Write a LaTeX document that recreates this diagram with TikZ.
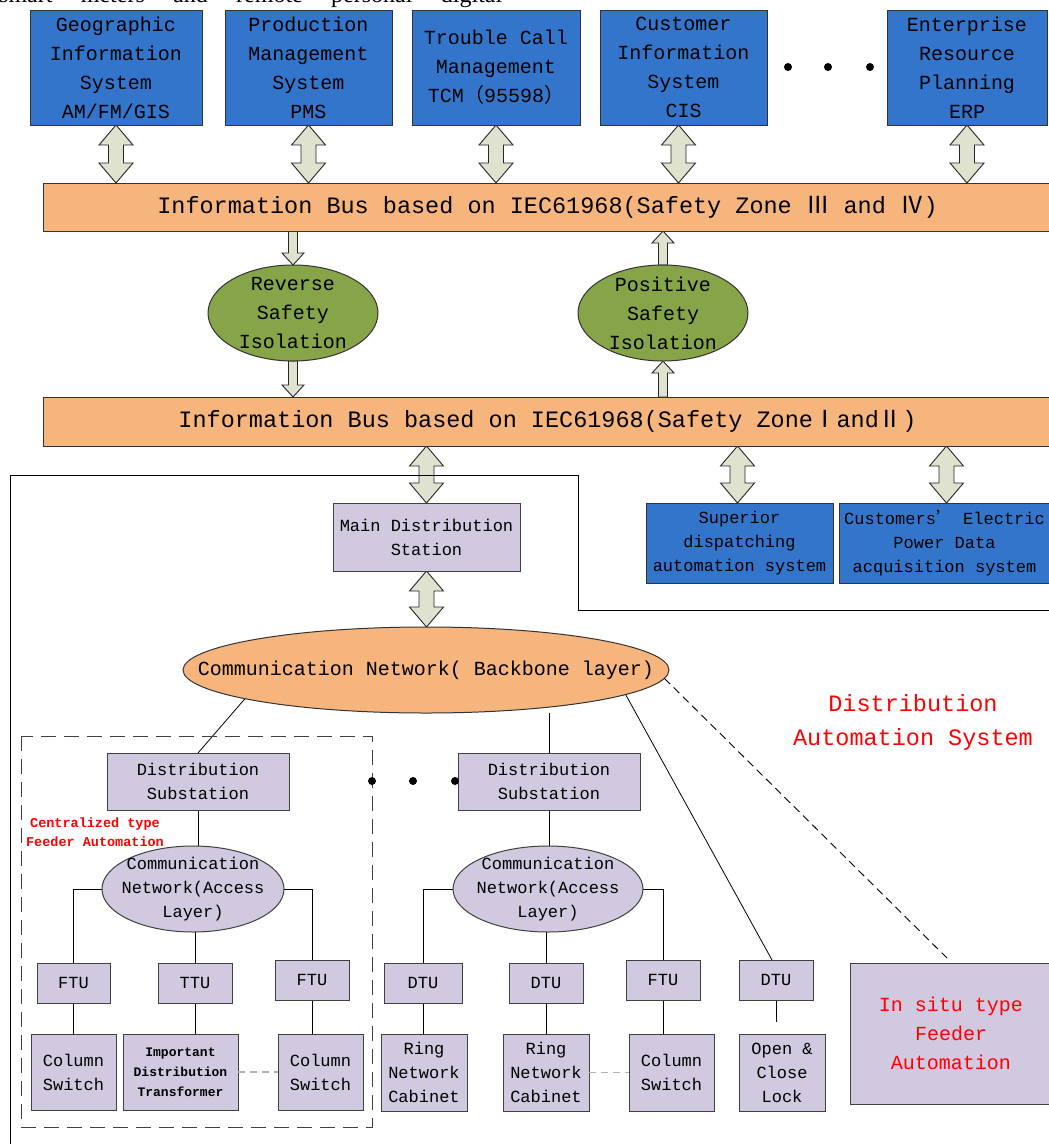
\documentclass[tikz,border=0pt]{standalone}
\usepackage{fontspec}
\setmainfont{Liberation Mono}
\newfontfamily\cjk{Noto Sans CJK SC}
\newfontfamily\serifx{Liberation Serif}
\usetikzlibrary{shapes.geometric,calc,backgrounds}
\definecolor{sysblue}{RGB}{52,117,204}
\definecolor{busorange}{RGB}{247,181,126}
\definecolor{isogreen}{RGB}{134,164,72}
\definecolor{lav}{RGB}{209,201,224}
\definecolor{arrfill}{RGB}{222,226,206}
\definecolor{redtxt}{RGB}{255,0,0}
\tikzset{
  sz/.style 2 args={minimum width=#1pt, minimum height=#2pt},
  basebox/.style={draw=black!80, line width=1pt, align=center, inner sep=0pt, outer sep=0pt},
  sysbox/.style={basebox, fill=sysblue, font=\fontsize{20}{29}\selectfont},
  subbox/.style={basebox, fill=sysblue, font=\fontsize{17}{24}\selectfont},
  busbox/.style={basebox, fill=busorange, font=\fontsize{23.5}{28}\selectfont},
  isoell/.style={basebox, ellipse, fill=isogreen},
  bbell/.style={basebox, ellipse, fill=busorange},
  accell/.style={basebox, ellipse, fill=lav, draw=black!75},
  bigtxt/.style={align=center, inner sep=0pt, font=\fontsize{20}{29}\selectfont},
  midtxt/.style={align=center, inner sep=0pt, font=\fontsize{17}{24}\selectfont},
  lbox/.style={basebox, fill=lav, draw=black!75, font=\fontsize{17}{24}\selectfont},
  smallbox/.style={lbox, font=\bfseries\fontsize{13}{20}\selectfont},
  blockarr/.style={draw=black!85, fill=arrfill, line width=0.9pt, line join=miter},
  conn/.style={draw=black, line width=0.8pt},
  grayconn/.style={draw=black!30, line width=1.5pt, dash pattern=on 7pt off 5pt},
  reddash/.style={draw=black!75, line width=1pt, dash pattern=on 15pt off 8pt},
  redlabel/.style={text=redtxt, align=center, inner sep=0pt},
  dotmark/.style={fill=black, circle, inner sep=0pt, minimum size=8pt}
}
\newcommand\dblarr[2]{%
  \path[blockarr] let \p1=#1, \p2=#2 in
  (\x1,\y1) -- ({\x1+17pt},{\y1-20pt}) -- ({\x1+7.5pt},{\y1-20pt}) -- ({\x1+7.5pt},{\y2+20pt})
  -- ({\x1+17pt},{\y2+20pt}) -- (\x1,\y2) -- ({\x1-17pt},{\y2+20pt}) -- ({\x1-7.5pt},{\y2+20pt})
  -- ({\x1-7.5pt},{\y1-20pt}) -- ({\x1-17pt},{\y1-20pt}) -- cycle;}
\newcommand\sglarr[2]{%
  \path[blockarr] let \p1=#1, \p2=#2, \n1={sign(\y2-\y1)*12} in
  ({\x1-4.5pt},\y1) -- ({\x1-4.5pt},{\y2-(\n1)}) -- ({\x1-11pt},{\y2-(\n1)}) -- (\x1,\y2)
  -- ({\x1+11pt},{\y2-(\n1)}) -- ({\x1+4.5pt},{\y2-(\n1)}) -- ({\x1+4.5pt},\y1) -- cycle;}
\begin{document}
\begin{tikzpicture}[x=1pt,y=-1pt]
\begin{pgfonlayer}{background}
\fill[white] (0,0) rectangle (1049,1144);
\end{pgfonlayer}
\useasboundingbox (0,0) rectangle (1049,1144);

% clipped line of page text
\node[anchor=base west, inner sep=0pt, font=\serifx\fontsize{24}{24}\selectfont] (pagetext) at (-1,2.5)
  {\makebox[503pt][s]{smart meters and remote personal digital}};

% top systems
\node[sysbox, sz={172}{115}] (gis) at (116,67.5) {Geographic\\Information\\System\\AM/FM/GIS};
\node[sysbox, sz={167}{115}] (pms) at (308.5,67.5) {Production\\Management\\System\\PMS};
\node[sysbox, sz={168}{115}] (tcm) at (496,67.5) {Trouble Call\\Management\\TCM{\cjk （}95598{\cjk ）}};
\node[sysbox, sz={167}{115}] (cis) at (683.5,67.5) {Customer\\Information\\System\\CIS};
\node[sysbox, sz={160}{115}] (erp) at (967,67.5) {Enterprise\\Resource\\Planning\\ERP};
\node[dotmark] (td1) at (788,67) {};
\node[dotmark] (td2) at (828,67) {};
\node[dotmark] (td3) at (870,67) {};

% buses
\node[busbox, sz={1009}{48}] (bus1) at (547.5,207)
  {Information Bus based on IEC61968(Safety Zone {\cjk Ⅲ} and {\cjk Ⅳ})};
\node[busbox, sz={1009}{49}] (bus2) at (547.5,421.5)
  {Information Bus based on IEC61968(Safety Zone{\cjk Ⅰ}and{\cjk Ⅱ})};

% isolation
\node[isoell, sz={170}{96}] (rev) at (293,313) {};
\node[bigtxt] (revtxt) at (rev.center) {Reverse\\Safety\\Isolation};
\node[isoell, sz={170}{96}] (pos) at (663,313) {};
\node[bigtxt] (postxt) at (pos.center) {Positive\\Safety\\Isolation};

% outline of distribution automation system
\draw[line width=1pt] (10,1150) -- (10,475) -- (578,475) -- (578,610) -- (1055,610);

\node[lbox, sz={187}{68}] (mds) at (426.5,537) {Main Distribution\\Station};
\node[subbox, sz={187}{80}] (sup) at (739.5,543) {Superior\\dispatching\\automation system};
\node[subbox, sz={211}{80}] (cust) at (944.5,543) {Customers{\cjk ’} Electric\\Power Data\\acquisition system};

\node[bbell, sz={486}{86}] (bb) at (426,670) {};
\node[bigtxt] (bbtxt) at (bb.center) {Communication Network( Backbone layer)};

\node[redlabel, font=\fontsize{23.5}{34}\selectfont] (das) at (913,722) {Distribution\\Automation System};

% centralized group
\draw[reddash] (21,736) rectangle (372,1127);
\node[lbox, sz={182}{57}] (ds1) at (198,781.5) {Distribution\\Substation};
\node[lbox, sz={182}{57}] (ds2) at (549,781.5) {Distribution\\Substation};
\node[dotmark] (md1) at (372,781) {};
\node[dotmark] (md2) at (413,781) {};
\node[dotmark] (md3) at (455,781) {};
\node[redlabel, font=\bfseries\fontsize{13.5}{19}\selectfont] (cfa) at (95,832.5) {Centralized type\\Feeder Automation};

\node[accell, sz={182}{86}] (an1) at (193,889) {};
\node[midtxt] (an1txt) at (an1.center) {Communication\\Network(Access\\Layer)};
\node[accell, sz={190}{86}] (an2) at (548,889) {};
\node[midtxt] (an2txt) at (an2.center) {Communication\\Network(Access\\Layer)};

\node[lbox, sz={73}{40}] (ftu1) at (73.5,983) {FTU};
\node[lbox, sz={74}{40}] (ttu) at (195,983) {TTU};
\node[lbox, sz={74}{40}] (ftu2) at (312,980) {FTU};
\node[lbox, sz={85}{76}] (cs1) at (73.5,1072) {Column\\Switch};
\node[smallbox, sz={115}{76}] (idt) at (180.5,1072) {Important\\Distribution\\Transformer};
\node[lbox, sz={85}{76}] (cs2) at (320.5,1072) {Column\\Switch};

\node[lbox, sz={78}{40}] (dtu1) at (423,983) {DTU};
\node[lbox, sz={74}{40}] (dtu2) at (546,983) {DTU};
\node[lbox, sz={74}{40}] (ftu3) at (663,980) {FTU};
\node[lbox, sz={74}{40}] (dtu4) at (776,980) {DTU};
\node[lbox, sz={86}{77}] (rnc1) at (424,1072.5) {Ring\\Network\\Cabinet};
\node[lbox, sz={86}{77}] (rnc2) at (546,1072.5) {Ring\\Network\\Cabinet};
\node[lbox, sz={85}{77}] (cs3) at (671.5,1072.5) {Column\\Switch};
\node[lbox, sz={86}{77}] (lock) at (782,1072.5) {Open \&\\Close\\Lock};
\node[lbox, sz={202}{141}, text=redtxt, font=\fontsize{20}{29}\selectfont] (insitu) at (951,1033.5) {In situ type\\Feeder\\Automation};

\coordinate (lockend) at (776,1022);
\coordinate (dashend) at ($(insitu.north)+(-4,-5)$);

\begin{pgfonlayer}{background}
  % block arrows
  \dblarr{(gis.south)}{(gis.south |- bus1.north)}
  \dblarr{(pms.south)}{(pms.south |- bus1.north)}
  \dblarr{(tcm.south)}{(tcm.south |- bus1.north)}
  \dblarr{($(cis.south)+(-5,0)$)}{($(cis.south |- bus1.north)+(-5,0)$)}
  \dblarr{(erp.south)}{(erp.south |- bus1.north)}
  \sglarr{(rev.north |- bus1.south)}{(rev.north)}
  \sglarr{(rev.south)}{(rev.south |- bus2.north)}
  \sglarr{(pos.north)}{(pos.north |- bus1.south)}
  \sglarr{(pos.south |- bus2.north)}{(pos.south)}
  \dblarr{(mds.north |- bus2.south)}{(mds.north)}
  \dblarr{($(sup.north |- bus2.south)+(-2,0)$)}{($(sup.north)+(-2,0)$)}
  \dblarr{($(cust.north |- bus2.south)+(2,0)$)}{($(cust.north)+(2,0)$)}
  \dblarr{(mds.south)}{(mds.south |- bb.north)}
  % connectors
  \draw[conn] (bb.189.5) -- (ds1.north);
  \draw[conn] (ds2.north) -- (ds2.north |- bb.south);
  \draw[conn] (bb.-7) -- ($(dtu4.north)+(-4,0)$);
  \draw[conn] (ds1.south) -- (ds1.south |- an1.north);
  \draw[conn] (ds2.south) -- (ds2.south |- an2.north);
  \draw[conn] (an1.west) -| (ftu1.north);
  \draw[conn] (an1.east) -| (ftu2.north);
  \draw[conn] (ttu.north) -- (ttu.north |- an1.south);
  \draw[conn] (an2.west) -| (dtu1.north);
  \draw[conn] (an2.east) -| (ftu3.north);
  \draw[conn] (dtu2.north) -- (dtu2.north |- an2.south);
  \draw[conn] (ftu1.south) -- (ftu1.south |- cs1.north);
  \draw[conn] (ttu.south) -- (ttu.south |- idt.north);
  \draw[conn] (ftu2.south) -- (ftu2.south |- cs2.north);
  \draw[conn] (dtu1.south) -- (dtu1.south |- rnc1.north);
  \draw[conn] (dtu2.south) -- (dtu2.south |- rnc2.north);
  \draw[conn] (ftu3.south) -- (ftu3.south |- cs3.north);
  \draw[conn] (dtu4.south) -- (lockend);
\end{pgfonlayer}
\draw[grayconn] (idt.east) -- (cs2.west);
\draw[grayconn] (rnc2.east) -- (cs3.west);
\draw[line width=0.9pt, dash pattern=on 8pt off 5pt] (bb.-2.4) -- (dashend);
\end{tikzpicture}
\end{document}
